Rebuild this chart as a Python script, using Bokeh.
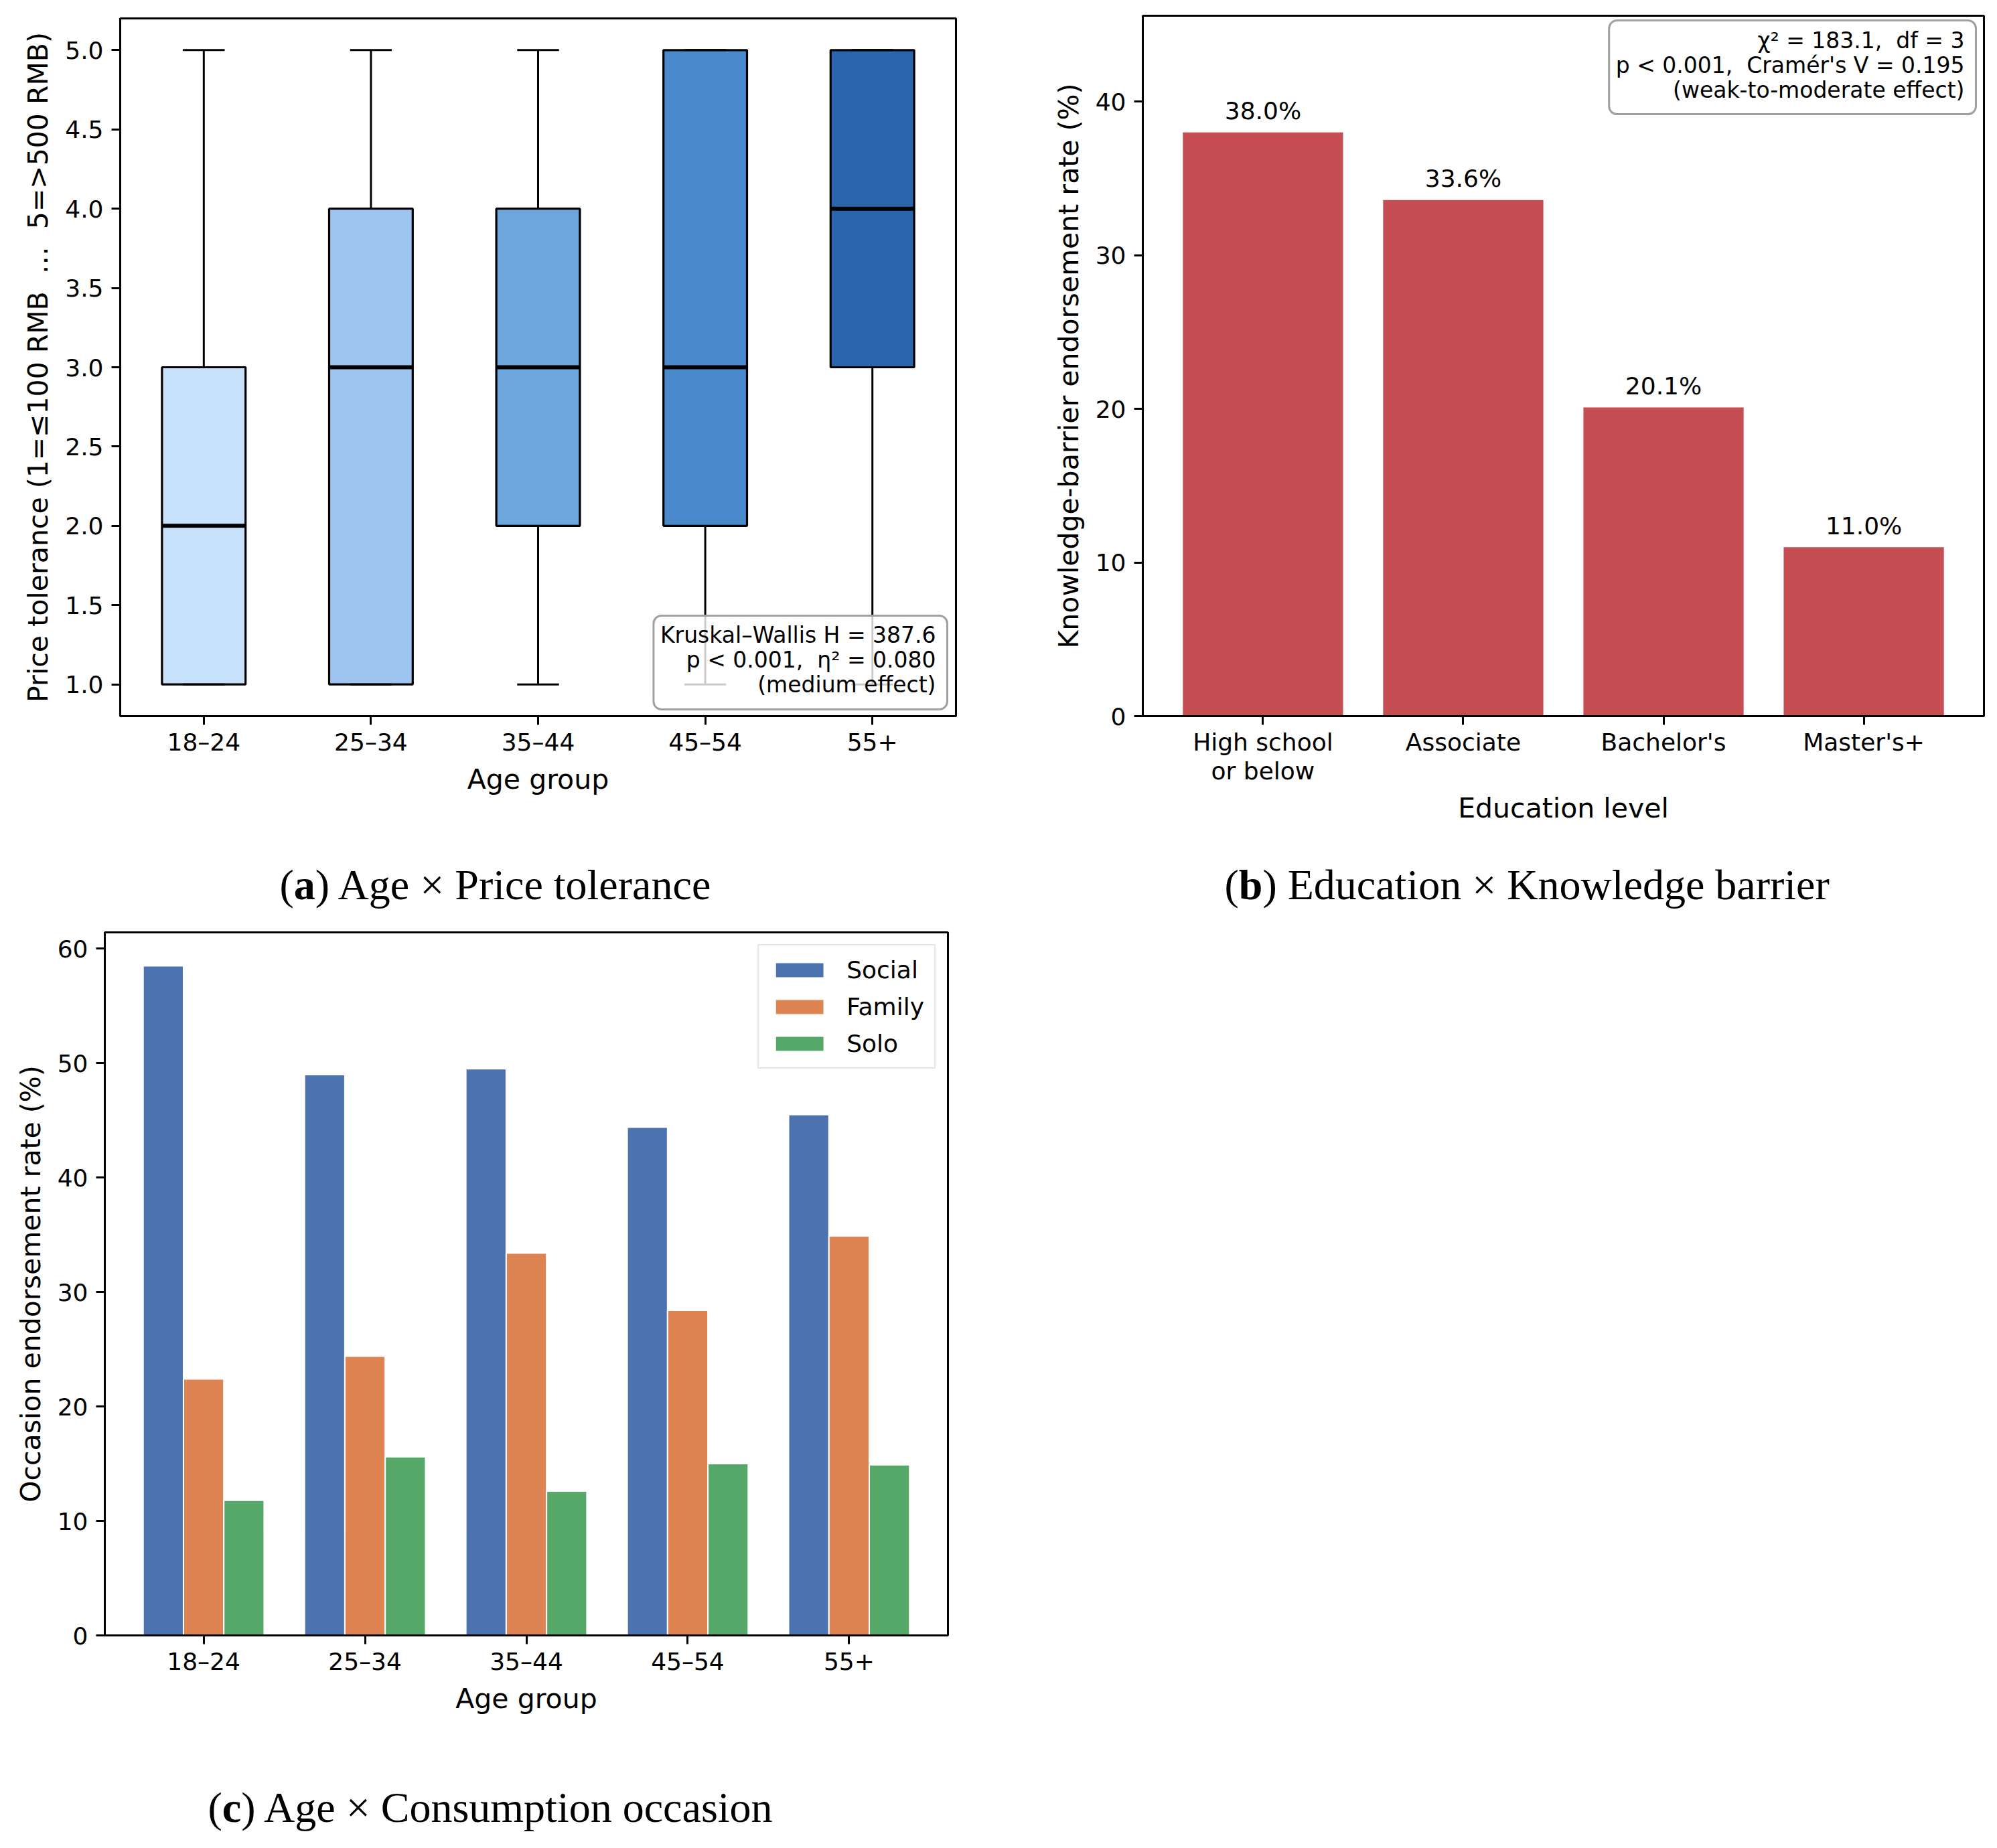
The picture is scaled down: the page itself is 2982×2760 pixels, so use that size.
from bokeh.plotting import figure
from bokeh.models import Range1d, FixedTicker, Label, Legend, LegendItem, NumeralTickFormatter
from bokeh.layouts import row, column
from bokeh.core.properties import value
from bokeh.embed import file_html
from bokeh.resources import INLINE

# ---------------- data ----------------
age_groups = ["18–24", "25–34", "35–44", "45–54", "55+"]
pt_whislo = [1, 1, 1, 1, 1]
pt_q1 = [1, 1, 2, 2, 3]
pt_median = [2, 3, 3, 3, 4]
pt_q3 = [3, 4, 4, 5, 5]
pt_whishi = [5, 5, 5, 5, 5]
box_colors = ["#c8e1fa", "#9dc5f0", "#6ca7dd", "#4a89cc", "#2b66ad"]

edu_levels = ["High school\nor below", "Associate", "Bachelor's", "Master's+"]
knowledge_rate = [38.0, 33.6, 20.1, 11.0]

occasions = ["Social", "Family", "Solo"]
occ_social = [58.5, 49.0, 49.5, 44.4, 45.5]
occ_family = [22.4, 24.4, 33.4, 28.4, 34.9]
occ_solo = [11.8, 15.6, 12.6, 15.0, 14.9]
occ_colors = ["#4c72b0", "#dd8452", "#55a868"]

captions = [("a", ") Age × Price tolerance"),
            ("b", ") Education × Knowledge barrier"),
            ("c", ") Age × Consumption occasion")]

FONT = "DejaVu Sans"
SERIF = "Liberation Serif"
NB2 = "\u00a0\u00a0"


def style(p):
    p.outline_line_color = "black"
    p.outline_line_width = 3
    p.grid.visible = False
    p.background_fill_color = "white"
    p.border_fill_color = "white"
    for ax in p.axis:
        ax.axis_line_color = "black"
        ax.axis_line_width = 3
        ax.major_tick_line_color = "black"
        ax.major_tick_line_width = 3
        ax.major_tick_out = 13
        ax.major_tick_in = 0
        ax.minor_tick_line_color = None
        ax.major_label_text_font = FONT
        ax.major_label_text_font_size = "36px"
        ax.major_label_text_color = "black"
        ax.major_label_text_line_height = 1.07
        ax.axis_label_text_font = FONT
        ax.axis_label_text_font_size = "41px"
        ax.axis_label_text_font_style = "normal"
        ax.axis_label_text_color = "black"
    for ax in p.xaxis:
        ax.major_label_standoff = 5
        ax.axis_label_standoff = 8
    for ax in p.yaxis:
        ax.major_label_standoff = 12
        ax.axis_label_standoff = 13


def caption_fig(width, height, x0, base, letter, rest, size=64):
    c = figure(width=width, height=height, x_range=Range1d(0, width), y_range=Range1d(0, height),
               x_axis_type=None, y_axis_type=None, frame_align=False,
               output_backend="svg", toolbar_location=None, title=None, min_border=0)
    c.grid.visible = False
    c.outline_line_color = None
    common = dict(text_font=value(SERIF), text_font_size=f"{size}px",
                  text_baseline="alphabetic", text_align="left", text_color="black")
    w_paren = 0.333 * size
    w_letter = {"a": 0.5, "b": 0.556, "c": 0.444}[letter] * size
    c.text(x=[x0], y=[base], text=["("], **common)
    c.text(x=[x0 + w_paren], y=[base], text=[letter], text_font_style="bold", **common)
    c.text(x=[x0 + w_paren + w_letter], y=[base], text=[rest], **common)
    return c


def stat_box(p, x, y, text, align_base):
    p.add_layout(Label(x=x, y=y, x_units="screen", y_units="screen", text=text,
                       text_align="right", text_baseline=align_base,
                       text_font=FONT, text_font_size="33px", text_color="black",
                       text_line_height=0.95,
                       background_fill_color="white", background_fill_alpha=0.8,
                       border_line_color="#a0a0a0", border_line_width=3,
                       padding=(10, 17, 10, 17), border_radius=12))


LEFT_W = 1490
RIGHT_W = 1480

# ---------------- (a) box plot ----------------
FA_W, FA_H = 1248, 1042
HA = 1280
pa = figure(width=LEFT_W, height=HA, x_range=Range1d(0.5, 5.5), y_range=Range1d(0.8, 5.2),
            output_backend="svg", toolbar_location=None, title=None, frame_align=False,
            min_border_left=179, min_border_right=LEFT_W - 179 - FA_W,
            min_border_top=27, min_border_bottom=HA - 27 - FA_H)
xs = list(range(1, len(age_groups) + 1))
pa.segment(x0=xs, y0=pt_q3, x1=xs, y1=pt_whishi, line_color="black", line_width=3)
pa.segment(x0=xs, y0=pt_whislo, x1=xs, y1=pt_q1, line_color="black", line_width=3)
pa.vbar(x=xs, bottom=pt_q1, top=pt_q3, width=0.5, fill_color=box_colors,
        line_color="black", line_width=3.2)
pa.segment(x0=[x - 0.25 for x in xs], y0=pt_median, x1=[x + 0.25 for x in xs], y1=pt_median,
           line_color="black", line_width=6)
pa.segment(x0=[x - 0.125 for x in xs], y0=pt_whishi, x1=[x + 0.125 for x in xs], y1=pt_whishi,
           line_color="black", line_width=3)
pa.segment(x0=[x - 0.125 for x in xs], y0=pt_whislo, x1=[x + 0.125 for x in xs], y1=pt_whislo,
           line_color="black", line_width=3)
pa.xaxis.ticker = FixedTicker(ticks=xs)
pa.xaxis.major_label_overrides = {x: g for x, g in zip(xs, age_groups)}
pa.yaxis.ticker = FixedTicker(ticks=[1.0, 1.5, 2.0, 2.5, 3.0, 3.5, 4.0, 4.5, 5.0])
pa.yaxis.formatter = NumeralTickFormatter(format="0.0")
pa.xaxis.axis_label = "Age group"
pa.yaxis.axis_label = f"Price tolerance (1=≤100 RMB{NB2}…{NB2}5=>500 RMB)"
style(pa)
stat_box(pa, FA_W - 13, 10,
         f"Kruskal–Wallis H = 387.6\np < 0.001,{NB2}η² = 0.080\n(medium effect)", "bottom")
cap_a = caption_fig(LEFT_W, 100, 417, 59, *captions[0])

# ---------------- (b) bar chart ----------------
FB_W, FB_H = 1256, 1046
HB = 1280
nb = len(edu_levels)
pb = figure(width=RIGHT_W, height=HB, x_range=Range1d(-0.6, nb - 0.4),
            y_range=Range1d(0, max(knowledge_rate) * 1.2),
            output_backend="svg", toolbar_location=None, title=None, frame_align=False,
            min_border_left=216, min_border_right=RIGHT_W - 216 - FB_W,
            min_border_top=23, min_border_bottom=HB - 23 - FB_H)
bx = list(range(nb))
pb.vbar(x=bx, top=knowledge_rate, width=0.8, fill_color="#c44e52", line_color=None)
pb.text(x=bx, y=[v + 0.5 for v in knowledge_rate], text=[f"{v:.1f}%" for v in knowledge_rate],
        text_align="center", text_baseline="bottom", text_font=value(FONT),
        text_font_size="36px", text_color="black")
pb.xaxis.ticker = FixedTicker(ticks=bx)
pb.xaxis.major_label_overrides = {x: e for x, e in zip(bx, edu_levels)}
pb.yaxis.ticker = FixedTicker(ticks=[0, 10, 20, 30, 40])
pb.xaxis.axis_label = "Education level"
pb.yaxis.axis_label = "Knowledge-barrier endorsement rate (%)"
style(pb)
stat_box(pb, FB_W - 12, FB_H - 7,
         f"χ² = 183.1,{NB2}df = 3\np < 0.001,{NB2}Cramér's V = 0.195\n(weak-to-moderate effect)", "top")
cap_b = caption_fig(RIGHT_W, 100, 338, 59, *captions[1])

# ---------------- (c) grouped bars ----------------
FC_W, FC_H = 1259, 1050
HC = 1280
nc = len(age_groups)
series = [occ_social, occ_family, occ_solo]
ymax_c = max(max(s) for s in series) * 1.05
pc = figure(width=LEFT_W, height=HC, x_range=Range1d(-0.6125, nc - 1 + 0.6125),
            y_range=Range1d(0, ymax_c),
            output_backend="svg", toolbar_location=None, title=None, frame_align=False,
            min_border_left=156, min_border_right=LEFT_W - 156 - FC_W,
            min_border_top=12, min_border_bottom=HC - 12 - FC_H)
cx = list(range(nc))
items = []
for k, (name, vals, col) in enumerate(zip(occasions, series, occ_colors)):
    off = (k - 1) * 0.25
    r = pc.vbar(x=[x + off for x in cx], top=vals, width=0.25, fill_color=col,
                line_color="white", line_width=2)
    items.append(LegendItem(label=name, renderers=[r]))
pc.xaxis.ticker = FixedTicker(ticks=cx)
pc.xaxis.major_label_overrides = {x: g for x, g in zip(cx, age_groups)}
pc.yaxis.ticker = FixedTicker(ticks=[0, 10, 20, 30, 40, 50, 60])
pc.xaxis.axis_label = "Age group"
pc.yaxis.axis_label = "Occasion endorsement rate (%)"
style(pc)
legend = Legend(items=items, location="top_right", margin=18, padding=15, spacing=13,
                label_height=42, glyph_height=29, glyph_width=91, label_standoff=25,
                label_text_font=FONT, label_text_font_size="36px", label_text_color="black",
                border_line_color="#cccccc", border_line_width=2.5,
                background_fill_color="white", background_fill_alpha=0.8)
pc.add_layout(legend)
cap_c = caption_fig(LEFT_W, 95, 310, 56, *captions[2])

layout = row(column(pa, cap_a, pc, cap_c), column(pb, cap_b))
open("out.html", "w").write(file_html(layout, INLINE))
